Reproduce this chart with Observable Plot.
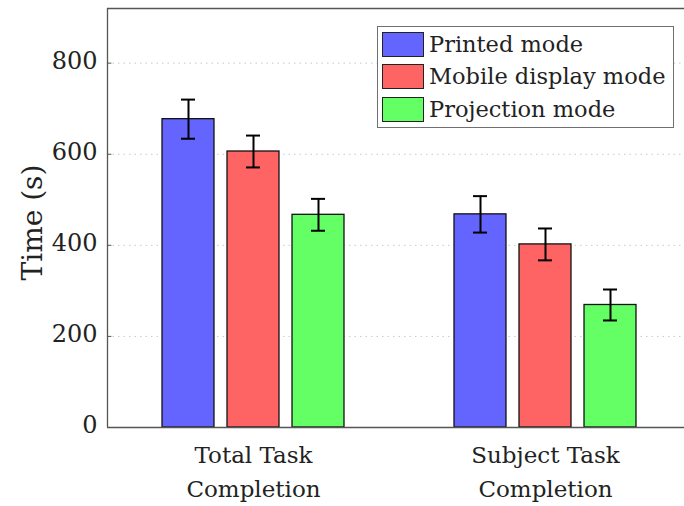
<!DOCTYPE html>
<html>
<head>
<meta charset="utf-8">
<script src="https://cdn.jsdelivr.net/npm/d3@7"></script>
<script src="https://cdn.jsdelivr.net/npm/@observablehq/plot@0.6"></script>
<style>
  html, body { margin: 0; padding: 0; background: #fff; }
  #wrap { position: relative; width: 684px; height: 506px; overflow: hidden; }
  #legend { position: absolute; left: 377px; top: 26px; width: 295px; height: 100px;
            border: 1px solid #707070; background: #fff; font-family: 'DejaVu Serif', serif; }
  .sw { position: absolute; left: 4px; width: 40px; height: 23px; border: 1px solid #222; }
  .lt { position: absolute; left: 51px; font-size: 22.5px; line-height: 1; color: #222; white-space: nowrap; }
</style>
</head>
<body>
<div id="wrap"></div>
<script>
// ---- data ----
const groups = ["Total Task\nCompletion", "Subject Task\nCompletion"];
const modes = ["Printed mode", "Mobile display mode", "Projection mode"];
const colors = ["#6464ff", "#ff6464", "#64ff64"];
const printedMean = [677, 468];
const mobileMean = [606, 402];
const projectionMean = [467, 269];
const printedErr = [43, 40];
const mobileErr = [35, 35];
const projectionErr = [35, 34];
const yTicks = [0, 200, 400, 600, 800];
const yLabel = "Time (s)";

// ---- build table ----
const means = [printedMean, mobileMean, projectionMean];
const errs = [printedErr, mobileErr, projectionErr];
const barW = 0.178, step = 0.2226, capHalf = 0.024;
const rows = [];
groups.forEach((g, gi) => {
  modes.forEach((m, mi) => {
    const c = gi + 1 + (mi - 1) * step;
    rows.push({group: g, mode: m, color: colors[mi], c, x1: c - barW / 2, x2: c + barW / 2,
               v: means[mi][gi], lo: means[mi][gi] - errs[mi][gi], hi: means[mi][gi] + errs[mi][gi]});
  });
});
const labels = groups.map((g, i) => ({x: i + 1, label: g}));
const SERIF = "DejaVu Serif";
const axisColor = "#555";

const plot = Plot.plot({
  width: 684,
  height: 506,
  marginTop: 8,
  marginBottom: 79,
  marginLeft: 107,
  marginRight: 0,
  style: {fontFamily: SERIF, background: "white", color: "#222"},
  x: {type: "linear", domain: [0.5, 2.5], range: [107, 691], axis: null},
  y: {domain: [0, 920], axis: null},
  marks: [
    Plot.gridY(yTicks.filter(d => d > 0), {stroke: "#c8c8c8", strokeOpacity: 1, strokeDasharray: "1.5,4"}),
    Plot.ruleY(yTicks, {x1: 0.5, x2: 0.515, stroke: axisColor}),
    Plot.rect(rows, {x1: "x1", x2: "x2", y1: 0, y2: "v", fill: "color", stroke: "#111", strokeWidth: 1.3}),
    Plot.ruleX(rows, {x: "c", y1: "lo", y2: "hi", stroke: "#000", strokeWidth: 2}),
    Plot.ruleY(rows, {y: "hi", x1: d => d.c - capHalf, x2: d => d.c + capHalf, stroke: "#000", strokeWidth: 2}),
    Plot.ruleY(rows, {y: "lo", x1: d => d.c - capHalf, x2: d => d.c + capHalf, stroke: "#000", strokeWidth: 2}),
    Plot.ruleY([0, 920], {stroke: axisColor, strokeWidth: 1.3}),
    Plot.ruleX([0.5], {y1: 0, y2: 920, stroke: axisColor, strokeWidth: 1.3}),
    Plot.text(yTicks, {x: 0.5, y: d => d, text: d => String(d), textAnchor: "end", dx: -10, dy: -2,
                       fontSize: 24, fill: "#222"}),
    Plot.text(labels, {x: "x", y: 0, text: "label", lineAnchor: "top", dy: 11, lineHeight: 1.5,
                       fontSize: 23, fill: "#222"}),
    Plot.text([{t: yLabel}], {x: () => 0.5, y: () => 450, text: "t", textAnchor: "middle", lineAnchor: "middle",
                              dx: -74, rotate: -90, fontSize: 28, fill: "#222"})
  ]
});
const wrap = document.getElementById("wrap");
wrap.appendChild(plot);

// ---- legend ----
const legend = document.createElement("div");
legend.id = "legend";
modes.forEach((m, i) => {
  const sw = document.createElement("div");
  sw.className = "sw";
  sw.style.top = (5 + i * 32.3) + "px";
  sw.style.background = colors[i];
  legend.appendChild(sw);
  const t = document.createElement("div");
  t.className = "lt";
  t.style.top = (6 + i * 32.3) + "px";
  t.textContent = m;
  legend.appendChild(t);
});
wrap.appendChild(legend);
</script>
</body>
</html>
